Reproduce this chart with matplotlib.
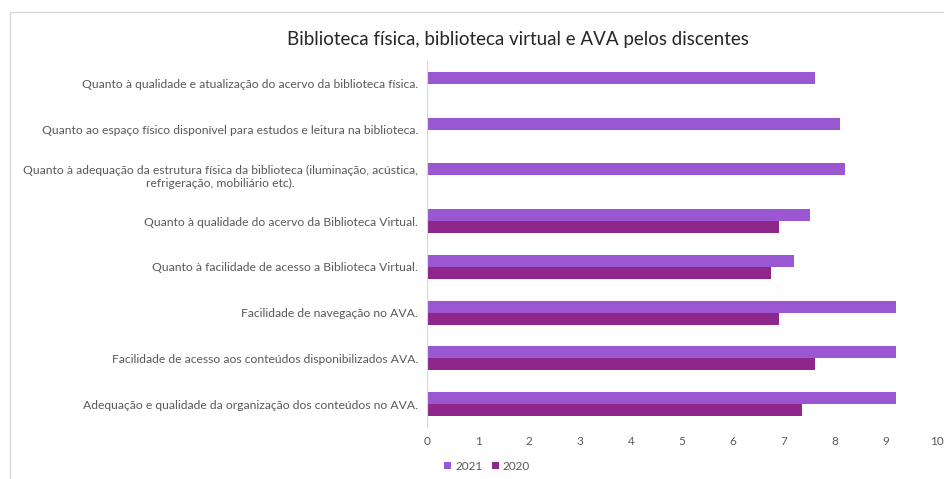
import numpy as np
import matplotlib
matplotlib.use("Agg")
import matplotlib.pyplot as plt
from matplotlib.patches import Rectangle

categories = [
    "Quanto à qualidade e atualização do acervo da biblioteca física.",
    "Quanto ao espaço físico disponível para estudos e leitura na biblioteca.",
    "Quanto à adequação da estrutura física da biblioteca (iluminação, acústica,\nrefrigeração, mobiliário etc).",
    "Quanto à qualidade do acervo da Biblioteca Virtual.",
    "Quanto à facilidade de acesso a Biblioteca Virtual.",
    "Facilidade de navegação no AVA.",
    "Facilidade de acesso aos conteúdos disponibilizados AVA.",
    "Adequação e qualidade da organização dos conteúdos no AVA.",
]
values_2021 = [7.6, 8.1, 8.2, 7.5, 7.2, 9.2, 9.2, 9.2]
values_2020 = [None, None, None, 6.9, 6.75, 6.9, 7.6, 7.35]
series_names = ["2021", "2020"]
xticks = list(range(0, 11))

c2021 = "#9B57D1"
c2020 = "#8F268B"
gray = "#595959"

plt.rcParams['font.family'] = ['Lato', 'DejaVu Sans']

fig = plt.figure(figsize=(9.44, 4.79), dpi=100)
ax = fig.add_axes([427/944, 52/479, 510/944, 366/479])

n = len(categories)
ypos = np.arange(n)[::-1].astype(float)
h = 0.26

ax.barh(ypos + h/2, values_2021, height=h, color=c2021, label=series_names[0])
idx = [i for i, v in enumerate(values_2020) if v is not None]
ax.barh(ypos[idx] - h/2, [values_2020[i] for i in idx], height=h, color=c2020, label=series_names[1])

ax.set_xlim(0, 10)
ax.set_ylim(-0.5, n - 0.5)
ax.set_xticks(xticks)
ax.set_xticklabels([str(t) for t in xticks], color=gray, fontsize=8.5)
ax.set_yticks(ypos)
ax.set_yticklabels(categories, color=gray, fontsize=8.7, multialignment='center')
ax.tick_params(axis='x', length=0, pad=6.5)
ax.tick_params(axis='y', length=0, pad=6.5)
for s in ['top', 'right', 'bottom']:
    ax.spines[s].set_visible(False)
ax.spines['left'].set_color('#D9D9D9')

fig.text(518/944, 1 - 40/479, "Biblioteca física, biblioteca virtual e AVA pelos discentes",
         ha='center', va='center', fontsize=13.5, color='#262626')

leg = fig.legend(loc='center', bbox_to_anchor=(487/944, 1 - 466/479), ncol=2, frameon=False,
                 fontsize=8.5, handlelength=0.6, handleheight=0.6, handletextpad=0.3, columnspacing=0.8)
for t in leg.get_texts():
    t.set_color(gray)

fig.patches.append(Rectangle((10/944, -0.05), 1.2, 1 - 12/479 + 0.05, transform=fig.transFigure,
                             fill=False, edgecolor='#D9D9D9', linewidth=1, clip_on=False))

fig.savefig("out.png", dpi=100)
